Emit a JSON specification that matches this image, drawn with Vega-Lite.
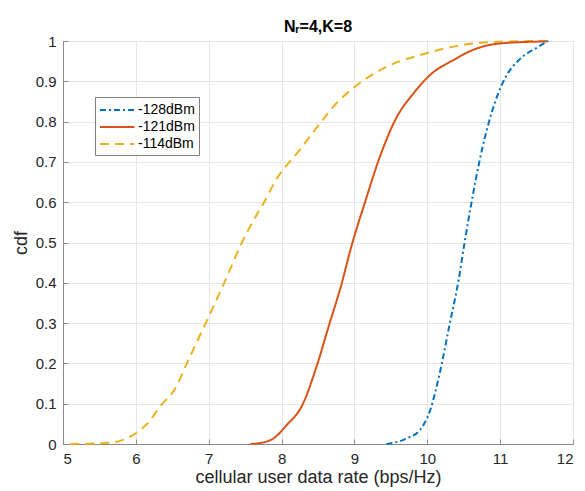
{
  "$schema": "https://vega.github.io/schema/vega-lite/v6.json",
  "width": 510,
  "height": 403,
  "autosize": {"type": "none"},
  "padding": {"left": 63, "top": 41, "right": 12, "bottom": 47},
  "background": "white",
  "title": {
    "text": "Nᵣ=4,K=8",
    "fontSize": 16,
    "fontWeight": "bold",
    "font": "Liberation Sans",
    "color": "#000000",
    "offset": -1
  },
  "config": {
    "view": {"stroke": "#d9d9d9", "strokeWidth": 1},
    "font": "Liberation Sans",
    "axis": {
      "labelFont": "Liberation Sans",
      "titleFont": "Liberation Sans",
      "labelFontSize": 15,
      "titleFontSize": 18,
      "titleFontWeight": "normal",
      "labelColor": "#262626",
      "titleColor": "#262626",
      "domainColor": "#8c8c8c",
      "tickColor": "#8c8c8c",
      "gridColor": "#e6e6e6",
      "gridWidth": 1
    }
  },
  "data": {
    "values": [
      {"rate": 5.10, "cdf": 0.000, "series": "-114dBm"},
      {"rate": 5.65, "cdf": 0.003, "series": "-114dBm"},
      {"rate": 5.85, "cdf": 0.012, "series": "-114dBm"},
      {"rate": 6.01, "cdf": 0.028, "series": "-114dBm"},
      {"rate": 6.18, "cdf": 0.055, "series": "-114dBm"},
      {"rate": 6.33, "cdf": 0.093, "series": "-114dBm"},
      {"rate": 6.54, "cdf": 0.138, "series": "-114dBm"},
      {"rate": 6.70, "cdf": 0.200, "series": "-114dBm"},
      {"rate": 6.85, "cdf": 0.258, "series": "-114dBm"},
      {"rate": 7.00, "cdf": 0.316, "series": "-114dBm"},
      {"rate": 7.25, "cdf": 0.415, "series": "-114dBm"},
      {"rate": 7.45, "cdf": 0.498, "series": "-114dBm"},
      {"rate": 7.60, "cdf": 0.550, "series": "-114dBm"},
      {"rate": 7.75, "cdf": 0.597, "series": "-114dBm"},
      {"rate": 7.94, "cdf": 0.660, "series": "-114dBm"},
      {"rate": 8.25, "cdf": 0.730, "series": "-114dBm"},
      {"rate": 8.53, "cdf": 0.796, "series": "-114dBm"},
      {"rate": 8.75, "cdf": 0.845, "series": "-114dBm"},
      {"rate": 9.01, "cdf": 0.887, "series": "-114dBm"},
      {"rate": 9.44, "cdf": 0.936, "series": "-114dBm"},
      {"rate": 9.90, "cdf": 0.965, "series": "-114dBm"},
      {"rate": 10.36, "cdf": 0.986, "series": "-114dBm"},
      {"rate": 10.95, "cdf": 0.998, "series": "-114dBm"},
      {"rate": 11.64, "cdf": 1.000, "series": "-114dBm"},
      {"rate": 7.57, "cdf": 0.000, "series": "-121dBm"},
      {"rate": 7.75, "cdf": 0.004, "series": "-121dBm"},
      {"rate": 7.89, "cdf": 0.014, "series": "-121dBm"},
      {"rate": 8.07, "cdf": 0.047, "series": "-121dBm"},
      {"rate": 8.28, "cdf": 0.095, "series": "-121dBm"},
      {"rate": 8.48, "cdf": 0.192, "series": "-121dBm"},
      {"rate": 8.66, "cdf": 0.300, "series": "-121dBm"},
      {"rate": 8.80, "cdf": 0.382, "series": "-121dBm"},
      {"rate": 8.97, "cdf": 0.498, "series": "-121dBm"},
      {"rate": 9.14, "cdf": 0.597, "series": "-121dBm"},
      {"rate": 9.35, "cdf": 0.713, "series": "-121dBm"},
      {"rate": 9.56, "cdf": 0.804, "series": "-121dBm"},
      {"rate": 9.81, "cdf": 0.870, "series": "-121dBm"},
      {"rate": 10.04, "cdf": 0.916, "series": "-121dBm"},
      {"rate": 10.36, "cdf": 0.953, "series": "-121dBm"},
      {"rate": 10.63, "cdf": 0.978, "series": "-121dBm"},
      {"rate": 11.00, "cdf": 0.994, "series": "-121dBm"},
      {"rate": 11.64, "cdf": 0.999, "series": "-121dBm"},
      {"rate": 9.44, "cdf": 0.000, "series": "-128dBm"},
      {"rate": 9.72, "cdf": 0.014, "series": "-128dBm"},
      {"rate": 9.90, "cdf": 0.035, "series": "-128dBm"},
      {"rate": 10.04, "cdf": 0.084, "series": "-128dBm"},
      {"rate": 10.17, "cdf": 0.175, "series": "-128dBm"},
      {"rate": 10.31, "cdf": 0.300, "series": "-128dBm"},
      {"rate": 10.43, "cdf": 0.407, "series": "-128dBm"},
      {"rate": 10.51, "cdf": 0.498, "series": "-128dBm"},
      {"rate": 10.63, "cdf": 0.622, "series": "-128dBm"},
      {"rate": 10.72, "cdf": 0.705, "series": "-128dBm"},
      {"rate": 10.88, "cdf": 0.820, "series": "-128dBm"},
      {"rate": 10.97, "cdf": 0.868, "series": "-128dBm"},
      {"rate": 11.08, "cdf": 0.912, "series": "-128dBm"},
      {"rate": 11.27, "cdf": 0.955, "series": "-128dBm"},
      {"rate": 11.50, "cdf": 0.983, "series": "-128dBm"},
      {"rate": 11.66, "cdf": 1.000, "series": "-128dBm"}
    ]
  },
  "mark": {"type": "line", "strokeWidth": 2, "interpolate": "monotone"},
  "encoding": {
    "x": {
      "field": "rate",
      "type": "quantitative",
      "scale": {"domain": [5, 12], "nice": false, "zero": false},
      "axis": {
        "title": "cellular user data rate (bps/Hz)",
        "values": [5, 6, 7, 8, 9, 10, 11, 12],
        "format": "d",
        "tickSize": -5,
        "labelPadding": 12,
        "titlePadding": 2
      }
    },
    "y": {
      "field": "cdf",
      "type": "quantitative",
      "scale": {"domain": [0, 1], "nice": false},
      "axis": {
        "title": "cdf",
        "values": [0, 0.1, 0.2, 0.3, 0.4, 0.5, 0.6, 0.7, 0.8, 0.9, 1],
        "format": "~g",
        "tickSize": -5,
        "labelPadding": 12,
        "titlePadding": 5
      }
    },
    "color": {
      "field": "series",
      "type": "nominal",
      "scale": {
        "domain": ["-128dBm", "-121dBm", "-114dBm"],
        "range": ["#0072BD", "#D95319", "#EDB120"]
      },
      "legend": {
        "title": null,
        "orient": "none",
        "legendX": 32,
        "legendY": 56,
        "labelFontSize": 14,
        "labelFont": "Liberation Sans",
        "labelColor": "#000000",
        "symbolType": "M-1,0H3.3",
        "symbolSize": 256,
        "symbolStrokeWidth": 2,
        "rowPadding": 1,
        "padding": 4,
        "strokeColor": "#808080",
        "fillColor": "white",
        "cornerRadius": 0,
        "labelOffset": 21
      }
    },
    "strokeDash": {
      "field": "series",
      "type": "nominal",
      "scale": {
        "domain": ["-128dBm", "-121dBm", "-114dBm"],
        "range": [[6, 3, 2, 3], [1, 0], [9, 6]]
      },
      "legend": null
    }
  }
}
